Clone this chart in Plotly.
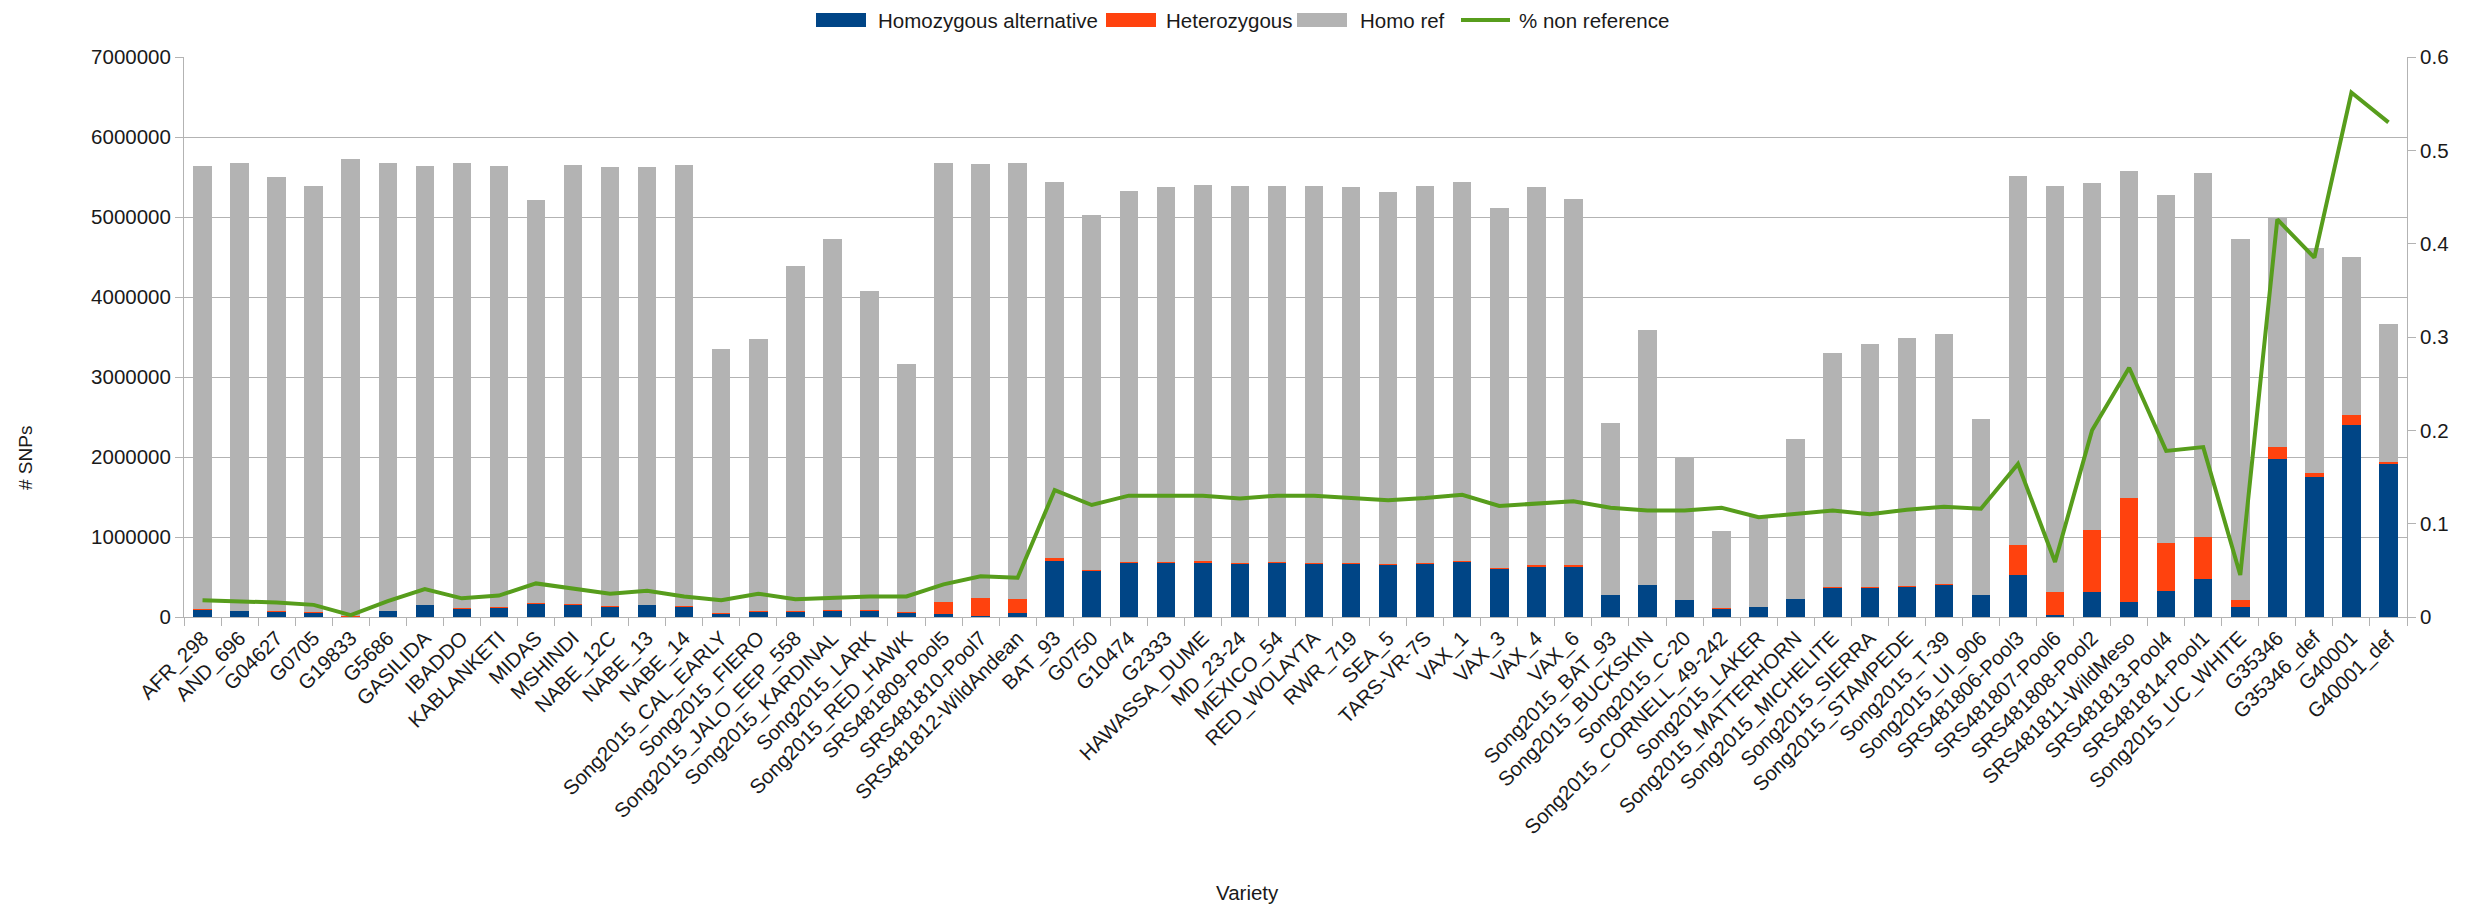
import plotly.graph_objects as go

varieties = [
    "AFR_298", "AND_696", "G04627", "G0705", "G19833", "G5686", "GASILIDA", "IBADDO",
    "KABLANKETI", "MIDAS", "MSHINDI", "NABE_12C", "NABE_13", "NABE_14",
    "Song2015_CAL_EARLY", "Song2015_FIERO", "Song2015_JALO_EEP_558", "Song2015_KARDINAL",
    "Song2015_LARK", "Song2015_RED_HAWK", "SRS481809-Pool5", "SRS481810-Pool7",
    "SRS481812-WildAndean", "BAT_93", "G0750", "G10474", "G2333", "HAWASSA_DUME",
    "MD_23-24", "MEXICO_54", "RED_WOLAYTA", "RWR_719", "SEA_5", "TARS-VR-7S", "VAX_1",
    "VAX_3", "VAX_4", "VAX_6", "Song2015_BAT_93", "Song2015_BUCKSKIN", "Song2015_C-20",
    "Song2015_CORNELL_49-242", "Song2015_LAKER", "Song2015_MATTERHORN",
    "Song2015_MICHELITE", "Song2015_SIERRA", "Song2015_STAMPEDE", "Song2015_T-39",
    "Song2015_UI_906", "SRS481806-Pool3", "SRS481807-Pool6", "SRS481808-Pool2",
    "SRS481811-WildMeso", "SRS481813-Pool4", "SRS481814-Pool1", "Song2015_UC_WHITE",
    "G35346", "G35346_def", "G40001", "G40001_def",
]

homozygous_alt = [
    95000, 76000, 70000, 57000, 10000, 76000, 150000, 105000, 120000, 170000,
    160000, 130000, 150000, 130000, 48000, 70000, 67000, 85000, 85000, 62000,
    33000, 15000, 48000, 700000, 580000, 675000, 675000, 684000, 665000, 675000,
    665000, 665000, 650000, 665000, 690000, 600000, 637000, 637000, 276000, 400000,
    214000, 105000, 128000, 228000, 366000, 366000, 380000, 404000, 276000, 523000,
    24000, 309000, 190000, 323000, 470000, 128000, 1970000, 1744000, 2400000, 1915000,
]

heterozygous = [
    3000, 3000, 3000, 3000, 3000, 3000, 3000, 3000, 3000, 3000,
    3000, 3000, 3000, 3000, 3000, 3000, 3000, 3000, 3000, 3000,
    157000, 220000, 175000, 33000, 8000, 12000, 10000, 10000, 8000, 10000,
    10000, 8000, 8000, 12000, 12000, 8000, 8000, 8000, 3000, 3000,
    3000, 3000, 3000, 3000, 3000, 3000, 3000, 3000, 3000, 380000,
    294000, 775000, 1300000, 600000, 530000, 86000, 150000, 50000, 130000, 20000,
]

homo_ref = [
    5542000, 5601000, 5427000, 5330000, 5717000, 5601000, 5487000, 5562000, 5517000, 5037000,
    5487000, 5487000, 5467000, 5517000, 3299000, 3407000, 4320000, 4642000, 3992000, 3095000,
    5490000, 5425000, 5457000, 4707000, 4442000, 4633000, 4695000, 4706000, 4717000, 4700000,
    4710000, 4697000, 4652000, 4708000, 4738000, 4502000, 4730000, 4585000, 2141000, 3187000,
    1783000, 962000, 1129000, 1989000, 2931000, 3041000, 3107000, 3133000, 2191000, 4607000,
    5072000, 4346000, 4090000, 4357000, 4550000, 4516000, 2880000, 2816000, 1970000, 1725000,
]

pct_non_ref = [
    0.018, 0.017, 0.0155, 0.013, 0.002, 0.017, 0.030, 0.020, 0.023, 0.036,
    0.031, 0.025, 0.028, 0.022, 0.018, 0.025, 0.019, 0.021, 0.022, 0.022,
    0.035, 0.0436, 0.042, 0.136, 0.120, 0.130, 0.130, 0.130, 0.127, 0.130,
    0.130, 0.128, 0.125, 0.1275, 0.131, 0.119, 0.122, 0.124, 0.117, 0.114,
    0.114, 0.117, 0.107, 0.111, 0.114, 0.110, 0.115, 0.118, 0.116, 0.164,
    0.059, 0.200, 0.267, 0.178, 0.182, 0.045, 0.426, 0.385, 0.562, 0.530,
]

left_ticks = [0, 1000000, 2000000, 3000000, 4000000, 5000000, 6000000, 7000000]
right_ticks = [0, 0.1, 0.2, 0.3, 0.4, 0.5, 0.6]

series_names = ["Homozygous alternative", "Heterozygous", "Homo ref", "% non reference"]
series_colors = ["#004586", "#ff420e", "#b3b3b3", "#579d1c"]

FONT = "Liberation Sans, Arial, sans-serif"
FS = 20.5
TXT = "#1a1a1a"
GRID = "#b3b3b3"

W, H = 2476, 907
ML, MR, MT, MB = 184, 69, 57, 290
PW, PH = W - ML - MR, H - MT - MB


def px_x(x):
    return (x - ML) / PW


def px_y(y):
    return (H - MB - y) / PH


fig = go.Figure()
bar_series = [homozygous_alt, heterozygous, homo_ref]
for name, color, vals in zip(series_names[:3], series_colors[:3], bar_series):
    fig.add_trace(go.Bar(x=varieties, y=vals, name=name,
                         marker=dict(color=color, line=dict(width=0))))
fig.add_trace(go.Scatter(x=varieties, y=pct_non_ref, name=series_names[3], yaxis="y2",
                         mode="lines", line=dict(color=series_colors[3], width=4)))

# custom legend (wide swatches like the original)
legend_swatch_x = [816, 1106, 1297, 1461]
legend_text_x = [876, 1164, 1358, 1517]
legend_y = 20
shapes = []
annotations = []
for i, (name, color) in enumerate(zip(series_names, series_colors)):
    x0 = legend_swatch_x[i]
    if i < 3:
        shapes.append(dict(type="rect", xref="paper", yref="paper",
                           x0=px_x(x0), x1=px_x(x0 + 50),
                           y0=px_y(legend_y + 7), y1=px_y(legend_y - 7),
                           fillcolor=color, line=dict(width=0)))
    else:
        shapes.append(dict(type="line", xref="paper", yref="paper",
                           x0=px_x(x0), x1=px_x(x0 + 49),
                           y0=px_y(legend_y), y1=px_y(legend_y),
                           line=dict(color=color, width=4)))
    annotations.append(dict(text=name, xref="paper", yref="paper",
                            x=px_x(legend_text_x[i]), y=px_y(legend_y),
                            xanchor="left", yanchor="middle", showarrow=False,
                            font=dict(family=FONT, size=FS, color=TXT)))

annotations.append(dict(text="# SNPs", xref="paper", yref="paper", x=px_x(25), y=px_y(458),
                        textangle=-90, showarrow=False,
                        font=dict(family=FONT, size=19, color=TXT),
                        xanchor="center", yanchor="middle"))
annotations.append(dict(text="Variety", xref="paper", yref="paper", x=px_x(1247), y=px_y(892),
                        showarrow=False, font=dict(family=FONT, size=FS, color=TXT),
                        xanchor="center", yanchor="middle"))

fig.update_layout(
    width=W, height=H,
    barmode="stack", bargap=0.5,
    paper_bgcolor="white", plot_bgcolor="white",
    margin=dict(l=ML, r=MR, t=MT, b=MB, autoexpand=False),
    font=dict(family=FONT, size=FS, color=TXT),
    showlegend=False,
    xaxis=dict(type="category", tickangle=-45, tickson="boundaries", ticks="outside",
               ticklen=8, tickcolor=GRID, showline=True, linecolor=GRID, linewidth=1,
               showgrid=False, tickfont=dict(family=FONT, size=FS, color=TXT),
               range=[-0.5, len(varieties) - 0.5], automargin=False),
    yaxis=dict(range=[0, 7000000], tickvals=left_ticks, tickformat="d", ticks="outside",
               ticklen=8, tickcolor=GRID, showline=True, linecolor=GRID, linewidth=1,
               showgrid=True, gridcolor=GRID, gridwidth=1, zeroline=False,
               tickfont=dict(family=FONT, size=FS, color=TXT), automargin=False),
    yaxis2=dict(range=[0, 0.6], tickvals=right_ticks, overlaying="y", side="right",
                ticks="outside", ticklen=8, tickcolor=GRID, showline=True, linecolor=GRID,
                linewidth=1, showgrid=False, zeroline=False,
                tickfont=dict(family=FONT, size=FS, color=TXT), automargin=False),
    shapes=shapes,
    annotations=annotations,
)

fig.write_html("out.html")
